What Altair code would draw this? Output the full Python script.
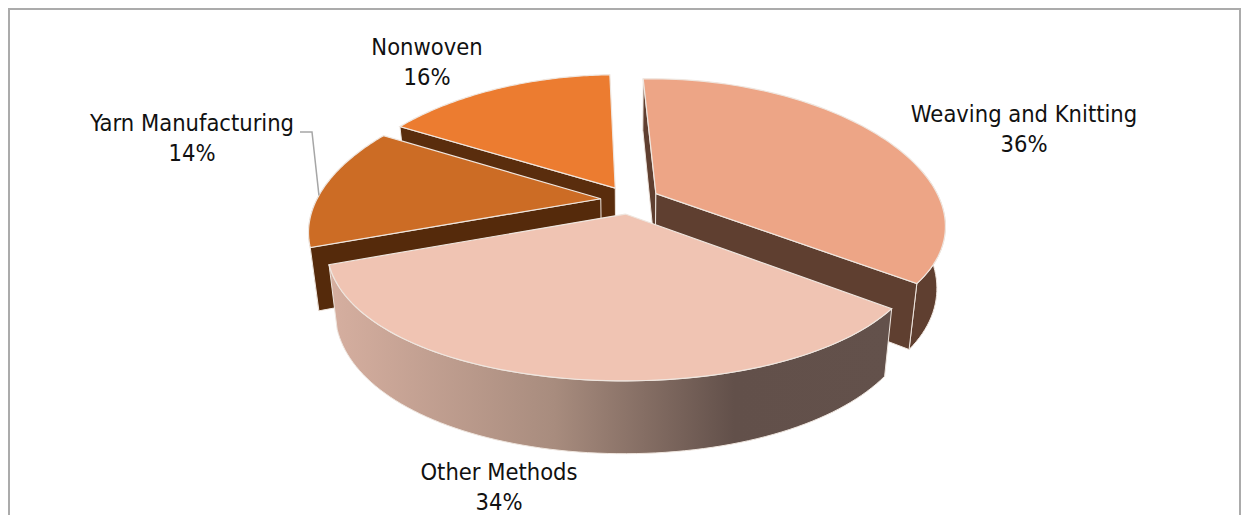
import math
import altair as alt
import pandas as pd

# ---- chart values ----
categories = ["Weaving and Knitting", "Other Methods", "Yarn Manufacturing", "Nonwoven"]
shares = [36, 34, 14, 16]

# ---- styles ----
top_colors = ["#EDA586", "#F0C4B3", "#CC6C25", "#EC7C30"]
wall_colors = ["#5F3F30", "#63514B", "#552A0B", "#5A2D0D"]
other_wall = alt.Gradient(
    gradient="linear", x1=0, x2=1, y1=0, y2=0,
    stops=[
        alt.GradientStop(color="#D6AFA0", offset=0),
        alt.GradientStop(color="#A88C7E", offset=0.4),
        alt.GradientStop(color="#62504A", offset=0.72),
        alt.GradientStop(color="#63514B", offset=1),
    ],
)
edge = "#EFE6DF"
W, H = 1233, 507

# ---- 3D view of the pie ----
CX, CY, R, EXPLODE = 630, 200, 290, 30
TILT, PERSP_X, PERSP_Y, DEPTH, ROT, TAPER, XSCALE = 0.466, 0.22, 0.16, 60, -2.0, 0.00045, 0.98


def project(ang, radius, off_ang, drop=0):
    a, o = math.radians(ang + ROT), math.radians(off_ang + ROT)
    X = radius * math.sin(a) + EXPLODE * math.sin(o)
    Z = -radius * math.cos(a) - EXPLODE * math.cos(o)
    sx = XSCALE / (1 - PERSP_X * Z / R)
    sy = 1 / (1 - PERSP_Y * Z / R)
    return CX + X * sx * (1 - drop * TAPER), CY + (Z * TILT + drop) * sy


def frame(points, name):
    return pd.DataFrame(
        {"x": [p[0] for p in points], "y": [p[1] for p in points], "i": range(len(points)), "name": name}
    )


x_enc = alt.X("x:Q", scale=alt.Scale(domain=[8, 8 + W]), axis=None)
y_enc = alt.Y("y:Q", scale=alt.Scale(domain=[8 + H, 8]), axis=None)


def poly(points, fill, name, width=1.0):
    closed = points + [points[0]]
    return (
        alt.Chart(frame(closed, name))
        .mark_line(fill=fill, stroke=edge, strokeWidth=width, clip=False)
        .encode(x=x_enc, y=y_enc, order="i:Q")
    )


starts, a0 = [], 0.0
for s in shares:
    starts.append(a0)
    a0 += s * 3.6

show_start = {0: True, 1: False, 2: True, 3: True}
show_end = {0: True, 1: False, 2: False, 3: False}

layers = []
yarn_pts = None
for idx in [3, 0, 2, 1]:
    a, b = starts[idx], starts[idx] + shares[idx] * 3.6
    mid = (a + b) / 2
    n = 80
    arc = [a + (b - a) * k / n for k in range(n + 1)]
    top_arc = [project(t, R, mid) for t in arc]
    bot_arc = [project(t, R, mid, DEPTH) for t in arc]
    apex_t, apex_b = project(0, 0, mid), project(0, 0, mid, DEPTH)
    front = [k for k, t in enumerate(arc) if 80 <= t <= 280]
    if front:
        f_top = [top_arc[k] for k in front]
        f_bot = [bot_arc[k] for k in front]
        wall_fill = other_wall if idx == 1 else wall_colors[idx]
        layers.append(poly(f_top + f_bot[::-1], wall_fill, f"w{idx}"))
    if show_start[idx]:
        layers.append(poly([apex_t, top_arc[0], bot_arc[0], apex_b], wall_colors[idx], f"s{idx}"))
    if show_end[idx]:
        layers.append(poly([apex_t, top_arc[-1], bot_arc[-1], apex_b], wall_colors[idx], f"e{idx}"))
    layers.append(poly([apex_t] + top_arc, top_colors[idx], f"t{idx}", 1.2))
    if idx == 2:
        yarn_pts = top_arc

# leader line of the Yarn Manufacturing label
tip = yarn_pts[34]
leader = frame([(300, 132), (312, 132), tip], "leader")
leader_layer = (
    alt.Chart(leader)
    .mark_line(stroke="#A6A6A6", strokeWidth=1.5)
    .encode(x=x_enc, y=y_enc, order="i:Q")
)

# ---- labels ----
label_x = [1024, 499, 192, 427]
label_y = [130, 488, 138.5, 63]
rows = []
for c, s, lx, ly in zip(categories, shares, label_x, label_y):
    rows.append({"x": lx, "y": ly - 15, "t": c})
    rows.append({"x": lx, "y": ly + 15, "t": f"{s}%"})
labels = (
    alt.Chart(pd.DataFrame(rows))
    .mark_text(font="DejaVu Sans Condensed", fontSize=23.5, color="#111111", align="center", baseline="middle")
    .encode(x=x_enc, y=y_enc, text="t:N")
)

# ---- outer frame, open at the bottom ----
frame_style = dict(color="#ABABAB", strokeWidth=2)
border = [
    alt.Chart(pd.DataFrame({"a": [0]})).mark_rule(**frame_style).encode(x=alt.value(1), y=alt.value(1), y2=alt.value(H)),
    alt.Chart(pd.DataFrame({"a": [0]})).mark_rule(**frame_style).encode(x=alt.value(W - 1), y=alt.value(1), y2=alt.value(H)),
    alt.Chart(pd.DataFrame({"a": [0]})).mark_rule(**frame_style).encode(y=alt.value(1), x=alt.value(0), x2=alt.value(W)),
]

chart = (
    alt.layer(*border, *layers, leader_layer, labels)
    .properties(width=W, height=H, padding=0, autosize=alt.AutoSizeParams(type="none"), background="white")
    .configure_view(stroke=None)
)
chart.save("out.html", embed_options={"renderer": "svg", "actions": False})
